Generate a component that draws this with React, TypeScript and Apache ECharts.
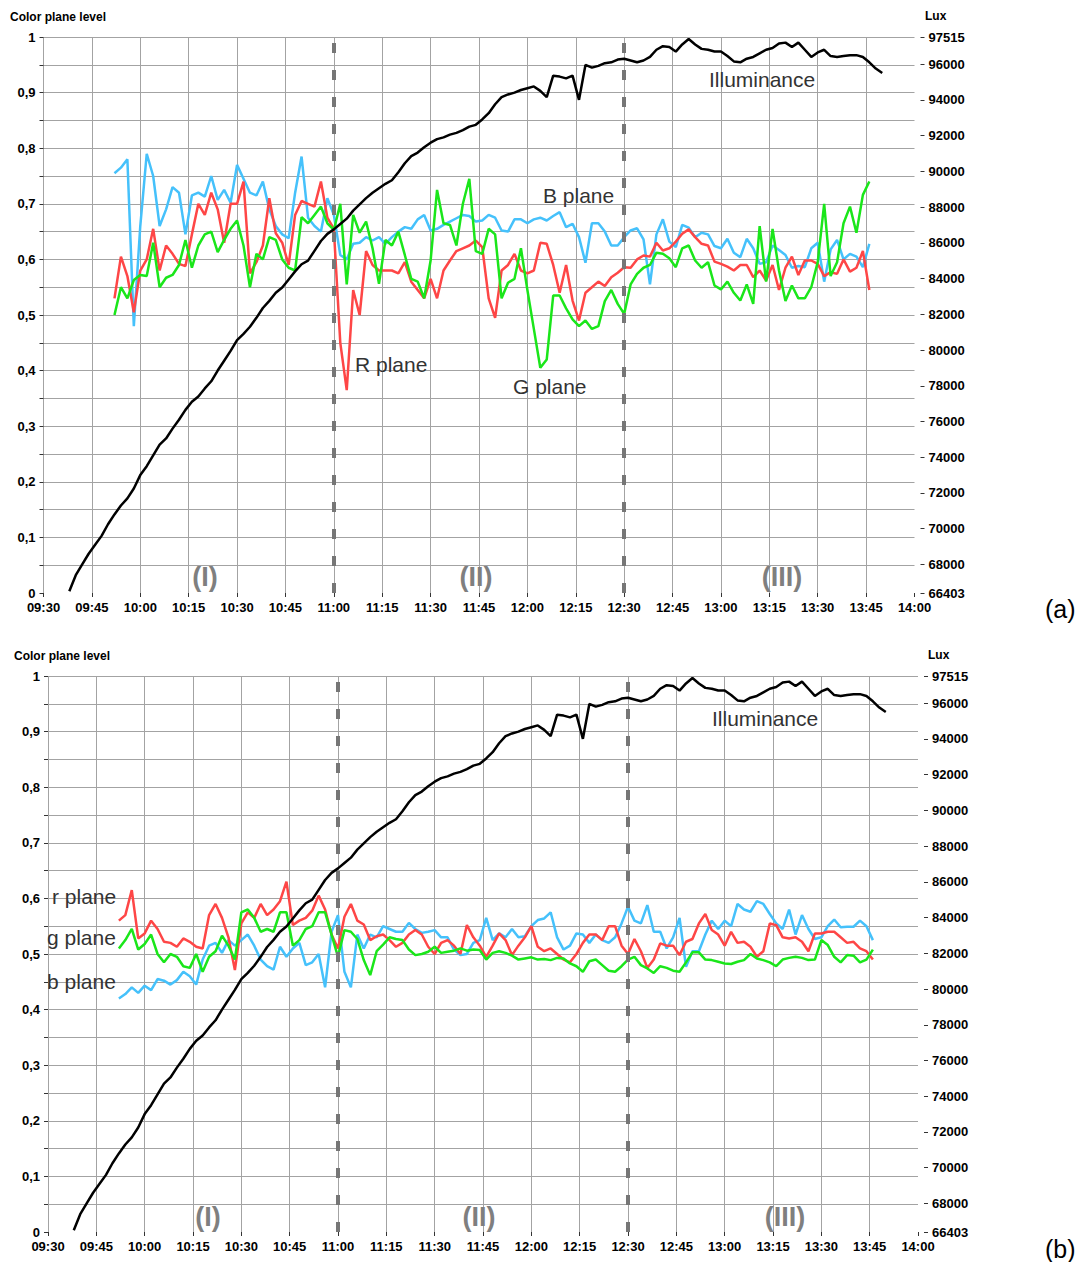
import React, { useEffect, useRef } from "react";
import * as echarts from "echarts";

// time in minutes after 09:30
const COLOR_T0 = 22;
const COLOR_STEP = 2;
const ILLUM_T0 = 8;
const ILLUM_STEP = 2;

const DASHED_TIMES = [90, 180]; // 11:00 and 12:30

const LUX_TICKS = [66403, 68000, 70000, 72000, 74000, 76000, 78000, 80000, 82000, 84000, 86000, 88000, 90000, 92000, 94000, 96000, 97515];

const ILLUM = [
  66500, 67400, 68000, 68600, 69100, 69600, 70250, 70800, 71300, 71700,
  72250, 73000, 73500, 74100, 74700, 75050, 75600, 76100, 76650, 77100,
  77400, 77850, 78250, 78850, 79400, 79950, 80550, 80900, 81300, 81800,
  82350, 82750, 83200, 83500, 83950, 84400, 84800, 85000, 85550, 86100,
  86500, 86750, 87050, 87350, 87800, 88150, 88500, 88800, 89050, 89300,
  89500, 89950, 90450, 90850, 91050, 91350, 91600, 91800, 91900, 92050,
  92150, 92300, 92500, 92600, 92900, 93250, 93750, 94150, 94300, 94400,
  94550, 94650, 94750, 94500, 94150, 95350, 95300, 95200, 95350, 94000,
  95950, 95800, 95900, 96050, 96100, 96250, 96300, 96200, 96100, 96200,
  96400, 96800, 97000, 96950, 96700, 97100, 97400, 97100, 96850, 96800,
  96700, 96700, 96450, 96150, 96100, 96300, 96400, 96600, 96800, 96900,
  97150, 97200, 96950, 97200, 96800, 96400, 96650, 96800, 96450, 96400,
  96450, 96500, 96500, 96400, 96100, 95750, 95500,
];

// panel (a)
const R_A = [
  0.53, 0.605, 0.57, 0.505, 0.58, 0.6, 0.655, 0.58, 0.625, 0.61,
  0.592, 0.588, 0.645, 0.7, 0.68, 0.72, 0.69, 0.63, 0.7, 0.7,
  0.74, 0.575, 0.595, 0.625, 0.71, 0.647, 0.63, 0.59, 0.68, 0.705,
  0.7, 0.695, 0.74, 0.675, 0.655, 0.45, 0.365, 0.545, 0.5, 0.615,
  0.59, 0.58, 0.58, 0.58, 0.575, 0.595, 0.56, 0.545, 0.53, 0.565,
  0.53, 0.58, 0.598, 0.615, 0.62, 0.625, 0.634, 0.622, 0.53, 0.495,
  0.58, 0.59, 0.61, 0.58, 0.575, 0.58, 0.63, 0.628, 0.59, 0.54,
  0.59, 0.526, 0.49, 0.54, 0.55, 0.56, 0.552, 0.568, 0.576, 0.586,
  0.585, 0.6, 0.607, 0.605, 0.63, 0.616, 0.62, 0.632, 0.646, 0.654,
  0.64, 0.628, 0.625, 0.596, 0.592, 0.587, 0.58, 0.59, 0.59, 0.568,
  0.58, 0.562, 0.59, 0.545, 0.585, 0.605, 0.572, 0.598, 0.598, 0.592,
  0.57, 0.577, 0.574, 0.6, 0.578, 0.585, 0.615, 0.545,
];
const G_A = [
  0.5, 0.55, 0.53, 0.563, 0.572, 0.57, 0.63, 0.55, 0.567, 0.572,
  0.59, 0.635, 0.585, 0.625, 0.645, 0.65, 0.613, 0.635, 0.655, 0.67,
  0.625, 0.55, 0.61, 0.6, 0.64, 0.635, 0.6, 0.585, 0.58, 0.676,
  0.665, 0.68, 0.695, 0.665, 0.653, 0.7, 0.555, 0.68, 0.648, 0.668,
  0.62, 0.556, 0.635, 0.625, 0.65, 0.608, 0.565, 0.56, 0.53, 0.598,
  0.725, 0.665, 0.662, 0.625, 0.7, 0.745, 0.615, 0.61, 0.655, 0.645,
  0.53, 0.558, 0.565, 0.62, 0.545, 0.475, 0.405, 0.42, 0.535, 0.535,
  0.512, 0.492, 0.48, 0.49, 0.475, 0.48, 0.525, 0.545, 0.52, 0.502,
  0.555, 0.574, 0.585, 0.59, 0.612, 0.61, 0.602, 0.586, 0.62, 0.625,
  0.598, 0.585, 0.595, 0.553, 0.546, 0.56, 0.54, 0.526, 0.555, 0.52,
  0.66, 0.56, 0.655, 0.58, 0.525, 0.553, 0.53, 0.53, 0.55, 0.595,
  0.7, 0.57, 0.595, 0.665, 0.695, 0.648, 0.716, 0.74,
];
const B_A = [
  0.755, 0.765, 0.78, 0.48, 0.66, 0.79, 0.75, 0.66, 0.69, 0.73,
  0.72, 0.645, 0.715, 0.72, 0.713, 0.75, 0.707, 0.725, 0.702, 0.77,
  0.745, 0.72, 0.715, 0.74, 0.69, 0.66, 0.645, 0.638, 0.72, 0.785,
  0.675, 0.66, 0.65, 0.71, 0.68, 0.608, 0.6, 0.628, 0.63, 0.64,
  0.634, 0.64, 0.628, 0.64, 0.65, 0.658, 0.655, 0.672, 0.68, 0.652,
  0.655, 0.662, 0.668, 0.674, 0.68, 0.678, 0.668, 0.67, 0.68, 0.675,
  0.652, 0.65, 0.672, 0.672, 0.665, 0.672, 0.675, 0.67, 0.678, 0.685,
  0.658, 0.664, 0.64, 0.594, 0.665, 0.665, 0.65, 0.625, 0.625, 0.64,
  0.652, 0.656, 0.636, 0.555, 0.645, 0.672, 0.632, 0.622, 0.662, 0.657,
  0.64, 0.648, 0.645, 0.624, 0.62, 0.637, 0.612, 0.604, 0.637, 0.62,
  0.592, 0.595, 0.625, 0.617, 0.608, 0.585, 0.588, 0.586, 0.62, 0.63,
  0.56, 0.618, 0.635, 0.6, 0.61, 0.605, 0.586, 0.628,
];

// panel (b)
const R_B = [
  0.56, 0.57, 0.615, 0.528, 0.537, 0.56, 0.545, 0.522, 0.52, 0.513,
  0.528, 0.522, 0.513, 0.51, 0.57, 0.59, 0.565, 0.53, 0.471, 0.555,
  0.575, 0.565, 0.59, 0.57, 0.58, 0.595, 0.63, 0.552, 0.56, 0.565,
  0.578, 0.605, 0.58, 0.535, 0.51, 0.567, 0.59, 0.56, 0.553, 0.525,
  0.532, 0.535, 0.525, 0.513, 0.52, 0.535, 0.543, 0.535, 0.513, 0.5,
  0.52, 0.525, 0.515, 0.5, 0.552, 0.53, 0.515, 0.495, 0.515, 0.537,
  0.525, 0.498, 0.515, 0.53, 0.55, 0.513, 0.505, 0.51, 0.5, 0.49,
  0.485, 0.5, 0.52, 0.535, 0.535, 0.525, 0.55, 0.55, 0.515, 0.5,
  0.527, 0.505, 0.475, 0.49, 0.519, 0.515, 0.515, 0.498, 0.522, 0.527,
  0.555, 0.572, 0.543, 0.535, 0.515, 0.54, 0.52, 0.522, 0.513, 0.495,
  0.505, 0.555, 0.552, 0.53, 0.528, 0.53, 0.522, 0.505, 0.537, 0.537,
  0.54, 0.54, 0.53, 0.52, 0.522, 0.51, 0.505, 0.49,
];
const G_B = [
  0.51, 0.525, 0.545, 0.508, 0.518, 0.535, 0.5, 0.485, 0.5, 0.495,
  0.478, 0.475, 0.5, 0.468, 0.495, 0.505, 0.533, 0.515, 0.49, 0.575,
  0.58, 0.565, 0.54, 0.545, 0.54, 0.575, 0.575, 0.515, 0.525, 0.545,
  0.55, 0.575, 0.575, 0.535, 0.495, 0.543, 0.54, 0.527, 0.489, 0.462,
  0.505, 0.517, 0.53, 0.527, 0.525, 0.508, 0.498, 0.5, 0.504, 0.513,
  0.502, 0.504, 0.506, 0.51, 0.506, 0.508, 0.507, 0.49, 0.502, 0.505,
  0.502, 0.497, 0.49, 0.492, 0.494, 0.49, 0.491, 0.489, 0.493, 0.492,
  0.483, 0.478, 0.468, 0.487, 0.49, 0.48, 0.47, 0.468, 0.478, 0.49,
  0.495, 0.48, 0.474, 0.466, 0.478, 0.475, 0.47, 0.468, 0.485, 0.503,
  0.503, 0.49, 0.489, 0.486, 0.483, 0.482, 0.486, 0.489, 0.5, 0.492,
  0.489, 0.485, 0.478, 0.49, 0.493, 0.495, 0.493, 0.489, 0.49, 0.525,
  0.516, 0.495, 0.485, 0.498, 0.497, 0.485, 0.49, 0.508,
];
const B_B = [
  0.42, 0.428, 0.44, 0.43, 0.443, 0.435, 0.455, 0.452, 0.445, 0.453,
  0.468, 0.46, 0.445, 0.49, 0.515, 0.52, 0.502, 0.525, 0.515, 0.525,
  0.535, 0.515, 0.49, 0.478, 0.472, 0.513, 0.495, 0.51, 0.52, 0.48,
  0.485, 0.5, 0.44, 0.54, 0.57, 0.468, 0.44, 0.535, 0.51, 0.535,
  0.53, 0.55, 0.545, 0.54, 0.54, 0.556, 0.545, 0.538, 0.54, 0.543,
  0.53, 0.53, 0.508, 0.498, 0.5, 0.52, 0.525, 0.565, 0.525, 0.537,
  0.53, 0.545, 0.53, 0.532, 0.55, 0.561, 0.564, 0.575, 0.53, 0.508,
  0.515, 0.537, 0.535, 0.52, 0.535, 0.525, 0.52, 0.53, 0.555, 0.585,
  0.56, 0.555, 0.588, 0.54, 0.54, 0.51, 0.53, 0.565, 0.477, 0.505,
  0.505, 0.535, 0.56, 0.545, 0.56, 0.55, 0.59, 0.58, 0.576, 0.595,
  0.59, 0.572, 0.555, 0.545, 0.58, 0.535, 0.57, 0.545, 0.527, 0.53,
  0.55, 0.562, 0.548, 0.549, 0.549, 0.56, 0.55, 0.525,
];

const FONT = '"Liberation Sans", Arial, sans-serif';
const COL_B = "#45c1fb";
const COL_R = "#fe4646";
const COL_G = "#1ae61a";

function pairs(arr: number[], t0: number, step: number) {
  return arr.map((v, i) => [t0 + i * step, v]);
}
function fmtTime(t: number) {
  const m = 9 * 60 + 30 + Math.round(t);
  const hh = Math.floor(m / 60);
  const mm = m % 60;
  return String(hh).padStart(2, "0") + ":" + String(mm).padStart(2, "0");
}
function fmtLevel(v: number) {
  const k = Math.round(v * 100);
  if (k % 10 !== 0) return "";
  if (k === 0) return "0";
  if (k === 100) return "1";
  return (k / 100).toFixed(1).replace(".", ",");
}
function fmtLux(v: number) {
  return String(Math.round(v));
}

const labelStyle = { fontFamily: FONT, fontWeight: "bold" as const, fontSize: 13, color: "#000" };

function buildAxes(gi: number) {
  const x = {
    type: "value", gridIndex: gi, min: 0, max: 270, interval: 15,
    axisLine: { show: false },
    axisTick: { show: true, length: 4, lineStyle: { color: "#333" } },
    axisLabel: { ...labelStyle, formatter: fmtTime, margin: 8 },
    splitLine: { show: true, showMinLine: true, showMaxLine: false, lineStyle: { color: "#a3a3a3", width: 1 } },
  };
  const yl = {
    type: "value", gridIndex: gi, position: "left", min: 0, max: 1, interval: 0.05,
    axisLine: { show: false },
    axisTick: { show: true, length: 4, lineStyle: { color: "#333" } },
    axisLabel: { ...labelStyle, formatter: fmtLevel, margin: 8 },
    splitLine: { show: true, showMinLine: false, showMaxLine: true, lineStyle: { color: "#a3a3a3", width: 1 } },
  };
  const yr = {
    type: "value", gridIndex: gi, position: "right", offset: 6, min: 66403, max: 97515,
    axisLine: { show: false },
    axisTick: { show: true, length: 4, customValues: LUX_TICKS, lineStyle: { color: "#333" } },
    axisLabel: { ...labelStyle, customValues: LUX_TICKS, formatter: fmtLux, margin: 8 },
    splitLine: { show: false },
  };
  return { x, yl, yr };
}

function colorSeries(name: string, data: number[], color: string, xi: number, yi: number) {
  return {
    name, type: "line", xAxisIndex: xi, yAxisIndex: yi, showSymbol: false, symbol: "none",
    data: pairs(data, COLOR_T0, COLOR_STEP),
    lineStyle: { color, width: 2.5 }, itemStyle: { color }, silent: true,
  };
}
function illumSeries(xi: number, yi: number) {
  return {
    name: "Illuminance", type: "line", xAxisIndex: xi, yAxisIndex: yi, showSymbol: false, symbol: "none",
    data: pairs(ILLUM, ILLUM_T0, ILLUM_STEP),
    lineStyle: { color: "#000", width: 2.5 }, itemStyle: { color: "#000" }, silent: true, z: 5,
    markLine: {
      silent: true, symbol: "none", label: { show: false },
      lineStyle: { color: "#767676", width: 4, type: [10, 17] },
      data: DASHED_TIMES.map((t) => ({ xAxis: t })),
    },
  };
}

function txt(text: string, x: number, y: number, size: number, color = "#333", weight = "normal", align = "left") {
  return {
    type: "text", x, y, z: 100, silent: true,
    style: { text, fill: color, fontFamily: FONT, fontSize: size, fontWeight: weight, align, verticalAlign: "middle" },
  };
}

export default function App() {
  const ref = useRef<HTMLDivElement>(null);
  useEffect(() => {
    if (!ref.current) return;
    const chart = echarts.init(ref.current, undefined, { renderer: "svg" });
    const a = buildAxes(0);
    const b = buildAxes(1);
    const option = {
      animation: false,
      backgroundColor: "#fff",
      grid: [
        { left: 43.5, top: 37, width: 871, height: 556 },
        { left: 48, top: 676, width: 870, height: 556 },
      ],
      xAxis: [a.x, b.x],
      yAxis: [a.yl, a.yr, b.yl, b.yr],
      series: [
        colorSeries("B plane", B_A, COL_B, 0, 0),
        colorSeries("R plane", R_A, COL_R, 0, 0),
        colorSeries("G plane", G_A, COL_G, 0, 0),
        illumSeries(0, 1),
        colorSeries("b plane", B_B, COL_B, 1, 2),
        colorSeries("r plane", R_B, COL_R, 1, 2),
        colorSeries("g plane", G_B, COL_G, 1, 2),
        illumSeries(1, 3),
      ],
      graphic: [
        txt("Color plane level", 10, 17, 12, "#000", "bold"),
        txt("Lux", 925, 16, 12, "#000", "bold"),
        txt("Color plane level", 14, 656, 12, "#000", "bold"),
        txt("Lux", 928, 655, 12, "#000", "bold"),
        txt("Illuminance", 709, 79, 21),
        txt("B plane", 543, 195, 21),
        txt("R plane", 355, 364, 21),
        txt("G plane", 513, 386, 21),
        txt("Illuminance", 712, 718, 21),
        txt("r plane", 52, 896, 21),
        txt("g plane", 47, 937, 21),
        txt("b plane", 47, 981, 21),
        txt("(I)", 205, 577, 27, "#7f7f7f", "bold", "center"),
        txt("(II)", 476, 577, 27, "#7f7f7f", "bold", "center"),
        txt("(III)", 782, 577, 27, "#7f7f7f", "bold", "center"),
        txt("(I)", 208, 1217, 27, "#7f7f7f", "bold", "center"),
        txt("(II)", 479, 1217, 27, "#7f7f7f", "bold", "center"),
        txt("(III)", 785, 1217, 27, "#7f7f7f", "bold", "center"),
        txt("(a)", 1045, 609, 25, "#000"),
        txt("(b)", 1045, 1249, 25, "#000"),
      ],
    };
    chart.setOption(option as any);
    return () => chart.dispose();
  }, []);
  return (
    <div
      ref={ref}
      style={{ position: "absolute", left: 0, top: 0, width: 1085, height: 1262, background: "#fff" }}
    />
  );
}
